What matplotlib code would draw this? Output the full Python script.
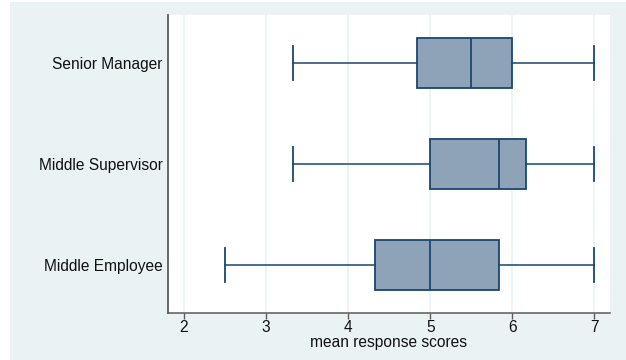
import numpy as np
import matplotlib.pyplot as plt
from matplotlib.patches import Rectangle

# groups, bottom to top
groups = ["Middle Employee", "Middle Supervisor", "Senior Manager"]
whislo = [2.5, 3.333, 3.333]
q1 = [4.333, 5.0, 4.833]
med = [5.0, 5.833, 5.5]
q3 = [5.833, 6.167, 6.0]
whishi = [7.0, 7.0, 7.0]
xticks = [2, 3, 4, 5, 6, 7]

navy = "#1a476f"
fillc = "#8ea3b8"
bgc = "#eaf2f3"

plt.rcParams['font.family'] = ['Liberation Sans', 'DejaVu Sans']

W, H = 626, 360
fig = plt.figure(figsize=(W / 100, H / 100), dpi=100)
fig.patch.set_facecolor("white")
fig.patches.append(Rectangle((10 / W, 0), 1 - 10 / W, 1 - 2 / H,
                             transform=fig.transFigure, facecolor=bgc,
                             edgecolor="none", zorder=-10))

ax = fig.add_axes([168 / W, (H - 313) / H, (610 - 168) / W, (313 - 15) / H])
ax.set_facecolor("white")

stats = []
for i in range(len(groups)):
    stats.append(dict(whislo=whislo[i], q1=q1[i], med=med[i], q3=q3[i],
                      whishi=whishi[i], fliers=[], label=groups[i]))

ax.bxp(stats, positions=[1, 2, 3], vert=False, widths=0.5, capwidths=0.34,
       patch_artist=True, showfliers=False,
       boxprops=dict(facecolor=fillc, edgecolor=navy, linewidth=1.3),
       medianprops=dict(color=navy, linewidth=1.3),
       whiskerprops=dict(color=navy, linewidth=1.1),
       capprops=dict(color=navy, linewidth=1.3), zorder=3)

ax.set_xlim(1.805, 7.19)
ax.set_ylim(0.525, 3.475)
ax.set_xticks(xticks)
ax.set_xticklabels([str(t) for t in xticks])
ax.xaxis.grid(True, color=bgc, linewidth=1.2, zorder=0)
ax.set_axisbelow(True)

for s in ["top", "right"]:
    ax.spines[s].set_visible(False)
ax.spines["left"].set_color("#5a5a5a")
ax.spines["left"].set_linewidth(1.3)
ax.spines["bottom"].set_color("#5a5a5a")
ax.spines["bottom"].set_linewidth(1.1)

fs = 11.2
ax.tick_params(axis="y", length=0, pad=4, labelsize=fs, labelcolor="#111111")
ax.tick_params(axis="x", length=4, width=1, color="#5a5a5a", pad=1,
               labelsize=fs, labelcolor="#111111")
ax.set_xlabel("mean response scores", fontsize=fs, color="#111111", labelpad=0)

fig.savefig("out.png", dpi=100)
